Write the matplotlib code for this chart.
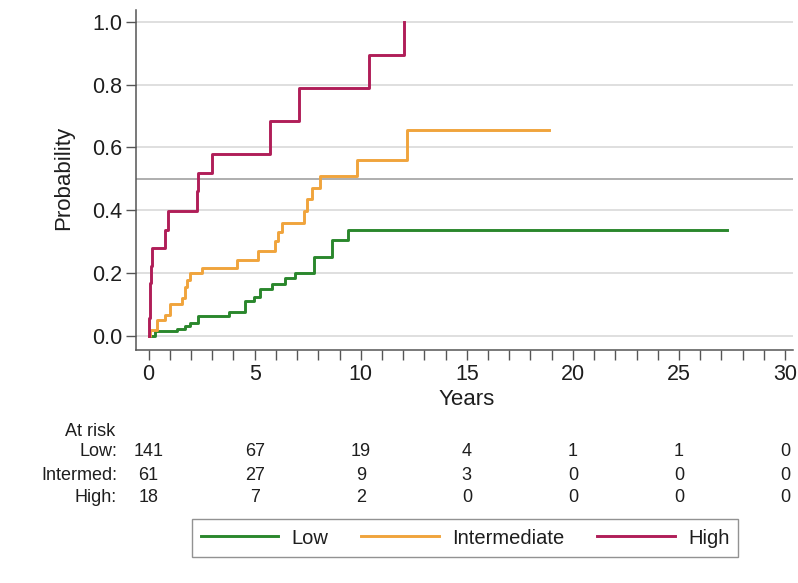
import matplotlib
matplotlib.use("Agg")
import matplotlib.pyplot as plt
from matplotlib.transforms import blended_transform_factory
from matplotlib.ticker import MultipleLocator, FormatStrFormatter

plt.rcParams['font.family'] = ['Liberation Sans', 'DejaVu Sans']

# ---- data ----
groups = ["Low", "Intermediate", "High"]
risk_labels = ["Low:", "Intermed:", "High:"]

low_times = [0, 0.31, 1.33, 1.72, 1.96, 2.35, 3.77, 4.55, 4.95, 5.23, 5.81, 6.44, 6.88, 7.78, 8.65, 9.40]
low_prob = [0, 0.013, 0.020, 0.029, 0.040, 0.063, 0.074, 0.109, 0.123, 0.149, 0.166, 0.182, 0.200, 0.250, 0.305, 0.335]
low_end = 27.25

int_times = [0, 0.07, 0.39, 0.78, 1.01, 1.56, 1.72, 1.80, 1.96, 2.51, 4.16, 5.18, 5.97, 6.12, 6.28,
             7.31, 7.46, 7.70, 8.06, 9.81, 12.20]
int_prob = [0, 0.018, 0.050, 0.066, 0.100, 0.120, 0.156, 0.178, 0.199, 0.217, 0.241, 0.271, 0.300,
            0.330, 0.360, 0.396, 0.436, 0.470, 0.508, 0.561, 0.657]
int_end = 18.86

high_times = [0, 0.03, 0.06, 0.09, 0.12, 0.15, 0.78, 0.90, 2.27, 2.35, 2.98, 5.73, 7.08, 10.37, 12.05]
high_prob = [0, 0.056, 0.111, 0.167, 0.222, 0.278, 0.337, 0.398, 0.460, 0.518, 0.579, 0.684, 0.789, 0.896, 1.0]
high_end = 12.05

risk_times = [0, 5, 10, 15, 20, 25, 30]
risk_low = [141, 67, 19, 4, 1, 1, 0]
risk_int = [61, 27, 9, 3, 0, 0, 0]
risk_high = [18, 7, 2, 0, 0, 0, 0]

colors = ["#2a872c", "#f0a43c", "#b01e58"]
text_color = "#1e1e1e"

# ---- figure ----
W, H = 798, 583
fig = plt.figure(figsize=(W / 100, H / 100), dpi=100)
ax_l, ax_r, ax_b, ax_t = 136, 793, 350, 10
ax = fig.add_axes([ax_l / W, 1 - ax_b / H, (ax_r - ax_l) / W, (ax_b - ax_t) / H])

series = [
    (low_times, low_prob, low_end),
    (int_times, int_prob, int_end),
    (high_times, high_prob, high_end),
]

# grid lines
for yv in [0.0, 0.2, 0.4, 0.6, 0.8, 1.0]:
    ax.axhline(yv, color="#dcdcdc", lw=1.3, zorder=0)
ax.axhline(0.5, color="#a8a8a8", lw=1.3, zorder=0)

handles = []
for (t, p, end), c, name in zip(series, colors, groups):
    tt = list(t) + [end]
    pp = list(p) + [p[-1]]
    h, = ax.step(tt, pp, where="post", color=c, lw=2.1, label=name, zorder=3)
    handles.append(h)

ax.set_xlim(-0.59, 30.37)
ax.set_ylim(-0.046, 1.038)

for s in ["top", "right"]:
    ax.spines[s].set_visible(False)
for s in ["left", "bottom"]:
    ax.spines[s].set_color("#555555")
    ax.spines[s].set_linewidth(1.1)

ax.xaxis.set_major_locator(MultipleLocator(5))
ax.xaxis.set_minor_locator(MultipleLocator(1))
ax.yaxis.set_major_locator(MultipleLocator(0.2))
ax.yaxis.set_major_formatter(FormatStrFormatter("%.1f"))
ax.tick_params(axis="both", which="both", direction="out", length=7, width=1.0,
               color="#555555", labelcolor=text_color, labelsize=15.5, pad=3)

ax.set_xlabel("Years", fontsize=16, color=text_color)
ax.xaxis.set_label_coords(0.503, -0.115)
ax.xaxis.label.set_va("top")
ax.set_ylabel("Probability", fontsize=16, color=text_color)
ax.yaxis.set_label_coords(-0.094, 0.506)

# ---- at-risk table ----
tr = blended_transform_factory(ax.transData, fig.transFigure)
fs_risk = 13
fig.text(115 / W, 1 - 431 / H, "At risk", ha="right", va="center", fontsize=fs_risk, color=text_color)
row_y = [452, 476, 498]
for lab, vals, yy in zip(risk_labels, [risk_low, risk_int, risk_high], row_y):
    fig.text(117 / W, 1 - yy / H, lab, ha="right", va="center", fontsize=fs_risk, color=text_color)
    for t, v in zip(risk_times, vals):
        ax.text(t, 1 - yy / H, str(v), transform=tr, ha="center", va="center",
                fontsize=fs_risk, color=text_color, clip_on=False)

# ---- legend ----
leg = fig.legend(handles=handles, labels=groups, ncol=3, loc="center",
                 bbox_to_anchor=(465 / W, 1 - 538 / H), fontsize=14.5,
                 handlelength=3.85, handletextpad=0.65, columnspacing=1.65,
                 borderpad=0.45, fancybox=False, frameon=True)
leg.get_frame().set_edgecolor("#777777")
leg.get_frame().set_linewidth(1.0)
for txt in leg.get_texts():
    txt.set_color(text_color)

fig.savefig("out.png", dpi=100)
